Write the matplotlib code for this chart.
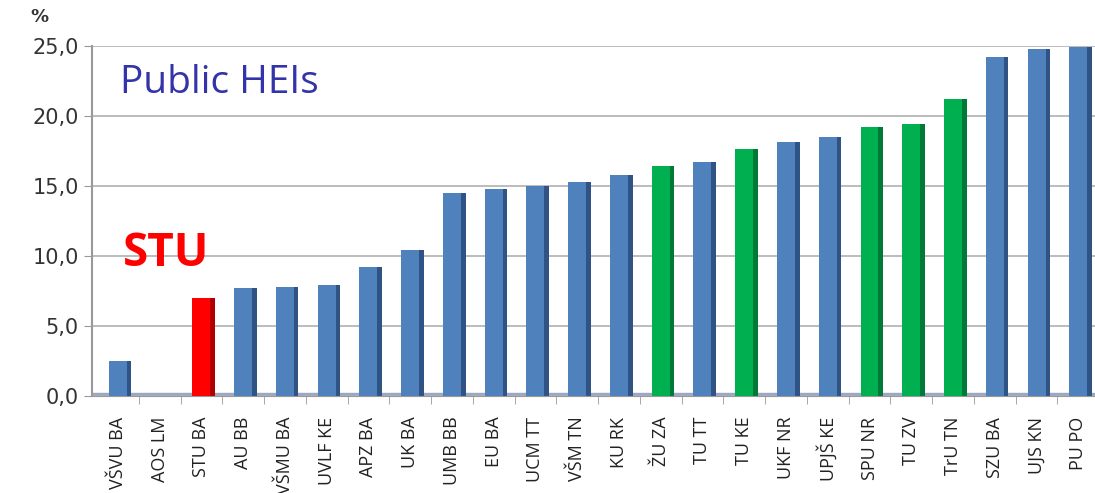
import numpy as np
import matplotlib.pyplot as plt

schools = ["VŠVU BA", "AOS LM", "STU BA", "AU BB", "VŠMU BA", "UVLF KE", "APZ BA",
           "UK BA", "UMB BB", "EU BA", "UCM TT", "VŠM TN", "KU RK", "ŽU ZA", "TU TT",
           "TU KE", "UKF NR", "UPJŠ KE", "SPU NR", "TU ZV", "TrU TN", "SZU BA",
           "UJS KN", "PU PO"]
values = [2.5, 0.0, 7.0, 7.7, 7.8, 7.9, 9.2, 10.4, 14.5, 14.8, 15.0, 15.3, 15.8,
          16.4, 16.7, 17.6, 18.1, 18.5, 19.2, 19.4, 21.2, 24.2, 24.8, 24.9]
groups = ["b", "b", "r", "b", "b", "b", "b", "b", "b", "b", "b", "b", "b",
          "g", "b", "g", "b", "b", "g", "g", "g", "b", "b", "b"]
yticks = [0, 5, 10, 15, 20, 25]

front = {"b": "#4f81bd", "g": "#00b050", "r": "#ff0000"}
side = {"b": "#2f5385", "g": "#007a36", "r": "#b00000"}

fig = plt.figure(figsize=(10.95, 4.93), dpi=100)
ax = fig.add_axes([0.084, 0.197, 0.916, 0.71])

x = np.arange(len(schools))
w = 0.43
ax.bar(x, values, width=w, color=[front[g] for g in groups], zorder=3)
# darker right face for a bit of depth
ax.bar(x + w / 2 + 0.055, values, width=0.11, color=[side[g] for g in groups], zorder=2)

ax.set_xlim(-0.62, 23.4)
ax.set_ylim(0, 25)
ax.set_yticks(yticks)
ax.set_yticklabels([("%.1f" % v).replace(".", ",") for v in yticks], fontsize=15, color="#333333")
ax.yaxis.set_tick_params(length=6, color="#999999")
ax.grid(axis="y", color="#b0b0b0", lw=1.2, zorder=0)
ax.axhspan(0, 0.2, color="#9aa8c8", zorder=1)

ax.set_xticks(x)
ax.set_xticklabels(schools, rotation=90, fontsize=13, family="Open Sans", color="#222222")
ax.set_xticks(x[:-1] + 0.5, minor=True)
ax.tick_params(axis="x", which="major", length=0, pad=15)
ax.tick_params(axis="x", which="minor", length=6, color="#999999")

for s in ["top", "right"]:
    ax.spines[s].set_visible(False)
ax.spines["left"].set_color("#999999")
ax.spines["bottom"].set_color("#999999")
ax.spines["left"].set_linewidth(1.5)

fig.text(0.028, 0.955, "%", fontsize=13, fontweight="bold", color="#333333")
ax.text(0.028, 0.865, "Public HEIs", transform=ax.transAxes, fontsize=28,
        color="#3333aa", family="Open Sans")
ax.text(0.031, 0.37, "STU", transform=ax.transAxes, fontsize=33,
        fontweight="bold", color="#ff0000", family="Open Sans")

fig.savefig("out.png", dpi=100)
